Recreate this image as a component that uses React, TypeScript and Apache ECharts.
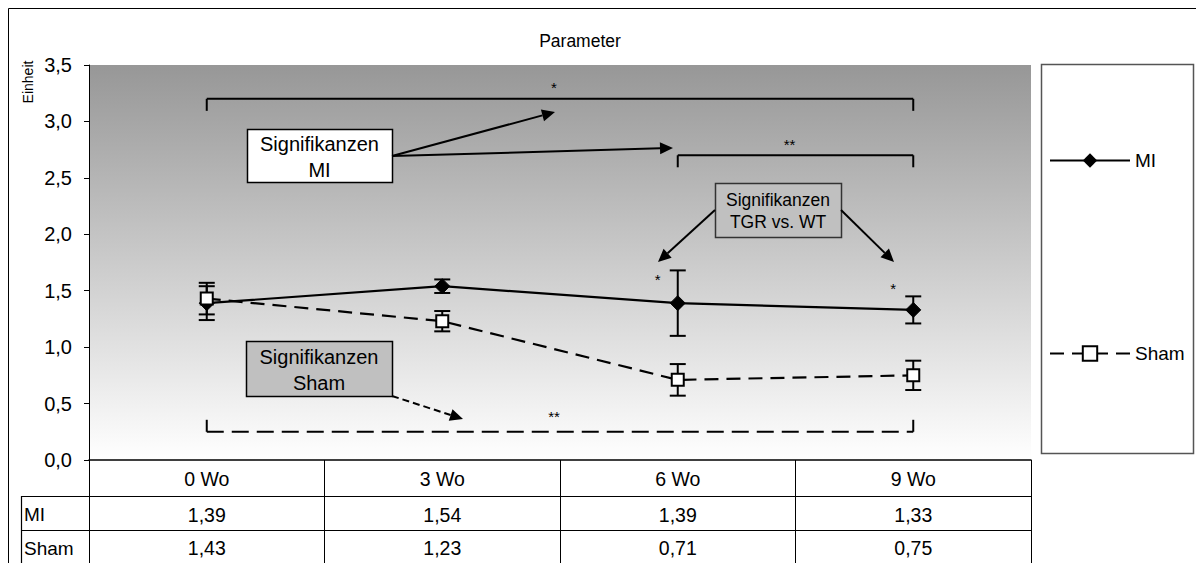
import React, { useEffect, useRef } from "react";
import * as echarts from "echarts";

const categories = ["0 Wo", "3 Wo", "6 Wo", "9 Wo"];
const miValues = [1.39, 1.54, 1.39, 1.33];
const shamValues = [1.43, 1.23, 0.71, 0.75];
const miErrors = [0.15, 0.06, 0.29, 0.12];
const shamErrors = [0.14, 0.09, 0.14, 0.13];
const seriesNames = ["MI", "Sham"];
const yMin = 0;
const yMax = 3.5;
const yInterval = 0.5;

// significance brackets (category index range, value level)
const brackets = [
  { from: 0, to: 3, level: 3.2, label: "*", dashed: false },
  { from: 2, to: 3, level: 2.7, label: "**", dashed: false },
  { from: 0, to: 3, level: 0.25, label: "**", dashed: true },
];
const pointStars = [
  { cat: 2, level: 1.6, label: "*" },
  { cat: 3, level: 1.52, label: "*" },
];

const FONT = 'Arial, "Liberation Sans", sans-serif';
const fmt = (v: number) => v.toFixed(2).replace(".", ",");

function arrow(x1: number, y1: number, x2: number, y2: number, dashed: boolean) {
  const ang = Math.atan2(y2 - y1, x2 - x1);
  const L = 13, W = 6;
  const c = Math.cos(ang), s = Math.sin(ang);
  const bx = x2 - L * c, by = y2 - L * s;
  return [
    {
      type: "line",
      shape: { x1, y1, x2: bx, y2: by },
      style: { stroke: "#000", lineWidth: 2, lineDash: dashed ? [7, 4] : null },
      z: 20,
    },
    {
      type: "polygon",
      shape: { points: [[x2, y2], [bx - W * s, by + W * c], [bx + W * s, by - W * c]] },
      style: { fill: "#000" },
      z: 20,
    },
  ];
}

function box(x: number, y: number, w: number, h: number, fill: string, stroke: string, text: string, fontSize: number, lineHeight: number) {
  return [
    {
      type: "rect",
      shape: { x: x + 0.5, y: y + 0.5, width: w, height: h },
      style: { fill, stroke, lineWidth: 1.5 },
      z: 20,
    },
    {
      type: "text",
      x: x + w / 2,
      y: y + h / 2 + 1,
      style: {
        text,
        fill: "#000",
        font: `${fontSize}px ${FONT}`,
        align: "center",
        verticalAlign: "middle",
        lineHeight,
      },
      z: 21,
    },
  ];
}

export default function App() {
  const ref = useRef<HTMLDivElement>(null);
  useEffect(() => {
    if (!ref.current) return;
    const chart = echarts.init(ref.current, null, { renderer: "svg" });
    const errorSeries = (name: string, vals: number[], errs: number[]) => ({
      type: "custom",
      name: name + "_err",
      z: 1,
      silent: true,
      data: vals.map((v, i) => [i, v, errs[i]]),
      renderItem: (params: any, api: any) => {
        const x = api.value(0);
        const v = api.value(1);
        const e = api.value(2);
        const top = api.coord([x, v + e]);
        const bot = api.coord([x, v - e]);
        const hw = 8;
        const st = { stroke: "#000", lineWidth: 2 };
        return {
          type: "group",
          children: [
            { type: "line", shape: { x1: top[0], y1: top[1], x2: bot[0], y2: bot[1] }, style: st },
            { type: "line", shape: { x1: top[0] - hw, y1: top[1], x2: top[0] + hw, y2: top[1] }, style: st },
            { type: "line", shape: { x1: bot[0] - hw, y1: bot[1], x2: bot[0] + hw, y2: bot[1] }, style: st },
          ],
        };
      },
    });
    const tableLabel = { fontSize: 19.5, color: "#000", margin: 9, fontFamily: FONT };
    const option: any = {
      animation: false,
      backgroundColor: "#fff",
      textStyle: { fontFamily: FONT },
      title: {
        text: "Parameter",
        left: 575,
        top: 27,
        textAlign: "center",
        textStyle: { fontSize: 17.5, fontWeight: "normal", color: "#000", fontFamily: FONT },
      },
      legend: {
        orient: "vertical",
        left: 1044,
        top: 146,
        itemGap: 174,
        itemWidth: 80,
        itemHeight: 18,
        data: seriesNames,
        textStyle: { fontSize: 19, color: "#000", fontFamily: FONT },
        selectedMode: false,
      },
      grid: {
        left: 89,
        right: 165,
        top: 65,
        bottom: 103,
        show: true,
        borderWidth: 0,
        backgroundColor: new echarts.graphic.LinearGradient(0, 0, 0, 1, [
          { offset: 0, color: "#979797" },
          { offset: 1, color: "#ffffff" },
        ]),
      },
      xAxis: [
        {
          type: "category",
          data: categories,
          boundaryGap: true,
          position: "bottom",
          axisLine: { lineStyle: { color: "#000", width: 1.5 } },
          axisTick: { show: true, length: 110, lineStyle: { color: "#000", width: 1 } },
          axisLabel: tableLabel,
        },
        {
          type: "category",
          data: miValues.map(fmt),
          position: "bottom",
          offset: 36,
          axisLine: { show: false },
          axisTick: { show: false },
          axisLabel: tableLabel,
        },
        {
          type: "category",
          data: shamValues.map(fmt),
          position: "bottom",
          offset: 69,
          axisLine: { show: false },
          axisTick: { show: false },
          axisLabel: tableLabel,
        },
      ],
      yAxis: {
        type: "value",
        min: yMin,
        max: yMax,
        interval: yInterval,
        axisLine: { show: true, lineStyle: { color: "#000", width: 1 } },
        axisTick: { show: true, length: 5, lineStyle: { color: "#000" } },
        splitLine: { show: false },
        axisLabel: {
          fontSize: 20,
          color: "#000",
          margin: 17,
          fontFamily: FONT,
          formatter: (v: number) => v.toFixed(1).replace(".", ","),
        },
      },
      series: [
        {
          type: "line",
          name: seriesNames[0],
          data: miValues,
          z: 5,
          symbol: "diamond",
          symbolSize: 15,
          lineStyle: { color: "#000", width: 2.2 },
          itemStyle: { color: "#000", borderColor: "#000" },
        },
        {
          type: "line",
          name: seriesNames[1],
          data: shamValues,
          z: 5,
          symbol: "rect",
          symbolSize: 12,
          lineStyle: { color: "#000", width: 2.2, type: [14, 8] },
          itemStyle: { color: "#fff", borderColor: "#000", borderWidth: 2 },
        },
        errorSeries(seriesNames[0], miValues, miErrors),
        errorSeries(seriesNames[1], shamValues, shamErrors),
      ],
    };
    chart.setOption(option);

    const px = (cat: number, val: number) =>
      chart.convertToPixel({ xAxisIndex: 0, yAxisIndex: 0 }, [cat, val]) as number[];

    const g: any[] = [];
    // outer frame
    g.push({
      type: "rect",
      shape: { x: 8.5, y: 8.5, width: 1300, height: 700 },
      style: { fill: "none", stroke: "#000", lineWidth: 1 },
      z: 30,
    });
    // y axis name
    g.push({
      type: "text",
      x: 28,
      y: 82,
      rotation: Math.PI / 2,
      style: { text: "Einheit", font: `14px ${FONT}`, fill: "#000", align: "center", verticalAlign: "middle" },
      z: 30,
    });
    // legend frame
    g.push({
      type: "rect",
      shape: { x: 1041.5, y: 64.5, width: 152, height: 389 },
      style: { fill: "none", stroke: "#555", lineWidth: 1.5 },
      z: 30,
    });
    // table lines
    const tableRight = px(3, 0)[0] + (px(3, 0)[0] - px(2, 0)[0]) / 2;
    [496, 530].forEach((y) =>
      g.push({
        type: "line",
        shape: { x1: 21, y1: y + 0.5, x2: tableRight, y2: y + 0.5 },
        style: { stroke: "#000", lineWidth: 1.2 },
        z: 30,
      })
    );
    g.push({
      type: "line",
      shape: { x1: 21.5, y1: 496, x2: 21.5, y2: 563 },
      style: { stroke: "#000", lineWidth: 1.2 },
      z: 30,
    });
    g.push({
      type: "text",
      x: 24,
      y: 514,
      style: { text: seriesNames[0], font: `19px ${FONT}`, fill: "#000", verticalAlign: "middle" },
      z: 30,
    });
    g.push({
      type: "text",
      x: 24,
      y: 548,
      style: { text: seriesNames[1], font: `19px ${FONT}`, fill: "#000", verticalAlign: "middle" },
      z: 30,
    });

    // brackets
    brackets.forEach((b) => {
      const a = px(b.from, b.level);
      const c = px(b.to, b.level);
      const dy = b.dashed ? -12 : 12;
      const st = { stroke: "#000", lineWidth: 2 };
      g.push({
        type: "line",
        shape: { x1: a[0], y1: a[1], x2: c[0], y2: c[1] },
        style: { ...st, lineDash: b.dashed ? [17, 8] : null },
        z: 15,
      });
      g.push({ type: "line", shape: { x1: a[0], y1: a[1], x2: a[0], y2: a[1] + dy }, style: st, z: 15 });
      g.push({ type: "line", shape: { x1: c[0], y1: c[1], x2: c[0], y2: c[1] + dy }, style: st, z: 15 });
      g.push({
        type: "text",
        x: (a[0] + c[0]) / 2 - 6,
        y: a[1] - (b.dashed ? 15 : 11),
        style: { text: b.label, font: `15px ${FONT}`, fill: "#000", align: "center", verticalAlign: "middle" },
        z: 15,
      });
    });
    pointStars.forEach((p) => {
      const a = px(p.cat, p.level);
      g.push({
        type: "text",
        x: a[0] - 20,
        y: a[1],
        style: { text: p.label, font: `15px ${FONT}`, fill: "#000", align: "center", verticalAlign: "middle" },
        z: 15,
      });
    });

    // annotation boxes and arrows
    g.push(...box(247, 129, 145, 53, "#fff", "#000", "Signifikanzen\nMI", 20, 26));
    g.push(...arrow(392, 156, 555, 112, false));
    g.push(...arrow(392, 156, 673, 148, false));
    g.push(...box(715, 183, 126, 54, "#c0c0c0", "#333", "Signifikanzen\nTGR vs. WT", 17.5, 22));
    g.push(...arrow(715, 210, 658, 262, false));
    g.push(...arrow(841, 210, 894, 262, false));
    g.push(...box(246, 341, 146, 55, "#c0c0c0", "#000", "Signifikanzen\nSham", 20, 26));
    g.push(...arrow(392, 396, 463, 419, true));

    chart.setOption({ graphic: g });
    return () => chart.dispose();
  }, []);
  return (
    <div
      ref={ref}
      style={{ position: "fixed", left: 0, top: 0, width: 1196, height: 563, background: "#fff" }}
    />
  );
}
